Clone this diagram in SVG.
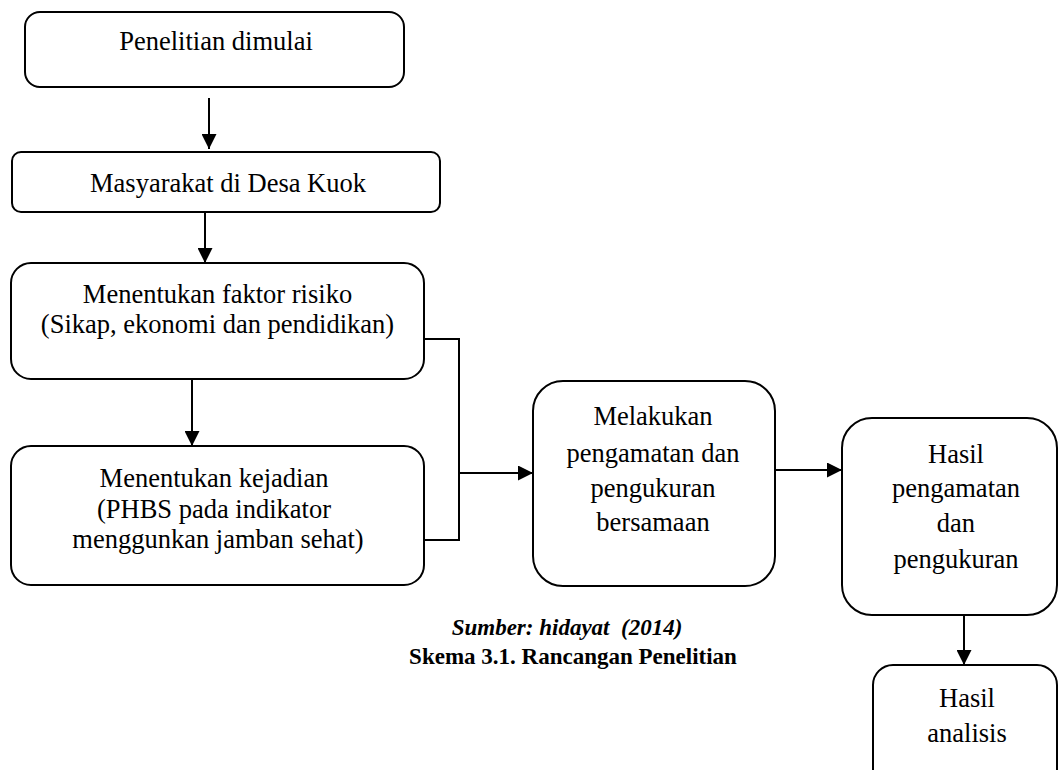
<svg xmlns="http://www.w3.org/2000/svg" width="1058" height="770" viewBox="0 0 1058 770">
<style>
  .box { fill: #ffffff; stroke: #000000; stroke-width: 2; }
  .t { font-family: "Liberation Serif", "Times New Roman", serif; font-size: 26.5px; fill: #000000; text-anchor: middle; }
  .cap { font-family: "Liberation Serif", "Times New Roman", serif; font-size: 23px; font-weight: bold; fill: #000000; text-anchor: middle; }
  .line { fill: none; stroke: #000000; stroke-width: 2; }
</style>
<defs>
  <marker id="arrow" markerUnits="userSpaceOnUse" markerWidth="15" markerHeight="15" refX="15" refY="7.5" orient="auto">
    <path d="M0,0 L15,7.5 L0,15 Z" fill="#000000"/>
  </marker>
</defs>
<rect x="0" y="0" width="1058" height="770" fill="#ffffff"/>

<g id="connectors">
  <line class="line" x1="209" y1="98" x2="209" y2="149" marker-end="url(#arrow)"/>
  <line class="line" x1="205" y1="212" x2="205" y2="263" marker-end="url(#arrow)"/>
  <line class="line" x1="192" y1="379" x2="192" y2="446" marker-end="url(#arrow)"/>
  <polyline class="line" points="424,339 459,339 459,540 424,540"/>
  <line class="line" x1="459" y1="473" x2="533" y2="473" marker-end="url(#arrow)"/>
  <line class="line" x1="775" y1="470" x2="842" y2="470" marker-end="url(#arrow)"/>
  <line class="line" x1="964" y1="615" x2="964" y2="665" marker-end="url(#arrow)"/>
</g>

<g id="node-penelitian">
  <rect class="box" x="25" y="12" width="379" height="75" rx="15" ry="15"/>
  <text class="t" x="216" y="50">Penelitian dimulai</text>
</g>

<g id="node-masyarakat">
  <rect class="box" x="12" y="152" width="428" height="60" rx="9" ry="9"/>
  <text class="t" x="228" y="192">Masyarakat di Desa Kuok</text>
</g>

<g id="node-faktor">
  <rect class="box" x="11" y="263" width="413" height="116" rx="20" ry="20"/>
  <text class="t" x="217.5" y="303">Menentukan faktor risiko</text>
  <text class="t" x="217.5" y="333">(Sikap, ekonomi dan pendidikan)</text>
</g>

<g id="node-kejadian">
  <rect class="box" x="11" y="446" width="413" height="139" rx="20" ry="20"/>
  <text class="t" x="214" y="487">Menentukan kejadian</text>
  <text class="t" x="214" y="518">(PHBS pada indikator</text>
  <text class="t" x="218" y="548">menggunkan jamban sehat)</text>
</g>

<g id="node-melakukan">
  <rect class="box" x="533" y="381" width="242" height="205" rx="30" ry="30"/>
  <text class="t" x="653" y="425">Melakukan</text>
  <text class="t" x="653" y="462">pengamatan dan</text>
  <text class="t" x="653" y="497">pengukuran</text>
  <text class="t" x="653" y="531">bersamaan</text>
</g>

<g id="node-hasil-pengamatan">
  <rect class="box" x="842" y="418" width="215" height="197" rx="30" ry="30"/>
  <text class="t" x="956" y="463">Hasil</text>
  <text class="t" x="956" y="497">pengamatan</text>
  <text class="t" x="956" y="532">dan</text>
  <text class="t" x="956" y="568">pengukuran</text>
</g>

<g id="node-hasil-analisis">
  <rect class="box" x="873" y="665" width="184" height="130" rx="20" ry="20"/>
  <text class="t" x="967" y="707">Hasil</text>
  <text class="t" x="967" y="742">analisis</text>
</g>

<g id="caption">
  <text class="cap" x="567" y="635" font-style="italic" xml:space="preserve">Sumber: hidayat  (2014)</text>
  <text class="cap" x="573" y="664">Skema 3.1. Rancangan Penelitian</text>
</g>
</svg>
